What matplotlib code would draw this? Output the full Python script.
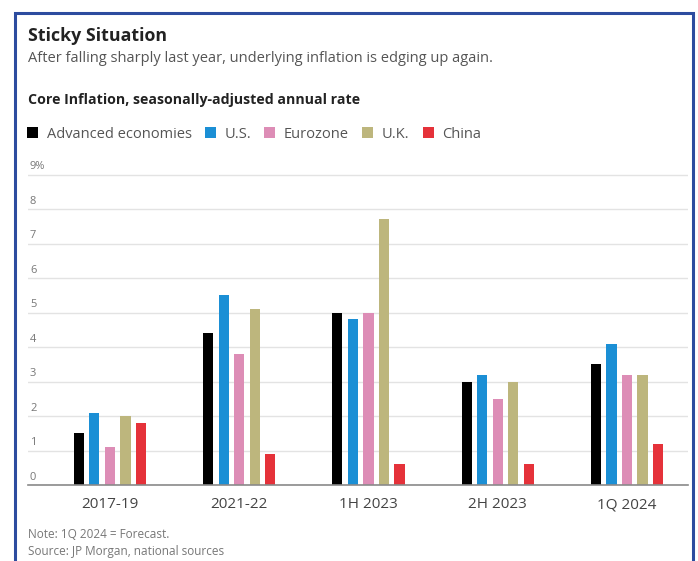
"""
Sticky Situation: core inflation bar chart
"""

import matplotlib
matplotlib.use("Agg")
import matplotlib.pyplot as plt
from matplotlib.patches import Rectangle
import numpy as np

categories = ["2017-19", "2021-22", "1H 2023", "2H 2023", "1Q 2024"]
series_names = ["Advanced economies", "U.S.", "Eurozone", "U.K.", "China"]
advanced = [1.5, 4.4, 5.0, 3.0, 3.5]
us = [2.1, 5.5, 4.8, 3.2, 4.1]
eurozone = [1.1, 3.8, 5.0, 2.5, 3.2]
uk = [2.0, 5.1, 7.7, 3.0, 3.2]
china = [1.8, 0.9, 0.6, 0.6, 1.2]
y_ticks = [0, 1, 2, 3, 4, 5, 6, 7, 8, 9]

colors = ["#000000", "#1b8fd5", "#dd8db6", "#bdb67d", "#e5323a"]

plt.rcParams["font.family"] = ["Open Sans", "DejaVu Sans"]

W, H = 698, 561
fig = plt.figure(figsize=(W / 100, H / 100), dpi=100)
fig.patch.set_facecolor("white")

# геометрия осей в пикселях
y0_px, px_per_unit = 485, 34.5
y_top = 9.15
ax_left, ax_right = 28, 688
ax = fig.add_axes([
    ax_left / W,
    (H - y0_px) / H,
    (ax_right - ax_left) / W,
    y_top * px_per_unit / H,
])

x = np.arange(len(categories))
pitch = 0.12
width = 0.078
all_series = [advanced, us, eurozone, uk, china]
for i, (name, vals, col) in enumerate(zip(series_names, all_series, colors)):
    ax.bar(x + (i - 2) * pitch, vals, width=width, color=col, label=name, zorder=3)

ax.set_xlim(-0.634, 4.472)
ax.set_ylim(0, y_top)

for s in ["top", "right", "left"]:
    ax.spines[s].set_visible(False)
ax.spines["bottom"].set_color("#8a8a8a")
ax.spines["bottom"].set_linewidth(1.2)
ax.spines["bottom"].set_zorder(4)

ax.set_yticks(y_ticks)
ax.set_yticklabels([])
ax.tick_params(axis="y", length=0)
ax.grid(True, axis="y", color="#e3e3e3", linewidth=1, zorder=0)
for t in y_ticks:
    lab = f"{t}%" if t == 9 else str(t)
    ax.text(0.003, t + 0.06, lab, transform=ax.get_yaxis_transform(),
            ha="left", va="bottom", fontsize=8, color="#777777")

ax.set_xticks(x)
ax.set_xticklabels(categories, fontsize=11, color="#444444")
ax.tick_params(axis="x", length=0, pad=9)

# заголовки
fig.text(28 / W, 1 - 36 / H, "Sticky Situation", fontsize=12.8, fontweight="bold",
         color="#222222", va="center", ha="left")
fig.text(28 / W, 1 - 58 / H,
         "After falling sharply last year, underlying inflation is edging up again.",
         fontsize=10.5, color="#555555", va="center", ha="left")
fig.text(28 / W, 1 - 100 / H, "Core Inflation, seasonally-adjusted annual rate",
         fontsize=10.2, fontweight="bold", color="#222222", va="center", ha="left")

fig.legend(loc="center left", bbox_to_anchor=(27 / W, 1 - 134 / H), ncol=5,
           frameon=False, fontsize=10.5, handlelength=0.75, handleheight=0.75,
           handletextpad=0.6, columnspacing=0.9, labelcolor="#555555",
           borderaxespad=0, borderpad=0)

fig.text(28 / W, 1 - 534 / H, "Note: 1Q 2024 = Forecast.", fontsize=8.5,
         color="#777777", va="center", ha="left")
fig.text(28 / W, 1 - 552 / H, "Source: JP Morgan, national sources", fontsize=8.5,
         color="#777777", va="center", ha="left")

# синяя рамка
fig.patches.append(Rectangle((15 / W, -0.05), (693 - 15) / W, 1.05 - 13 / H,
                             transform=fig.transFigure, fill=False,
                             edgecolor="#2d4c9f", linewidth=2.2, zorder=10))

fig.savefig("out.png", dpi=100, facecolor="white")
